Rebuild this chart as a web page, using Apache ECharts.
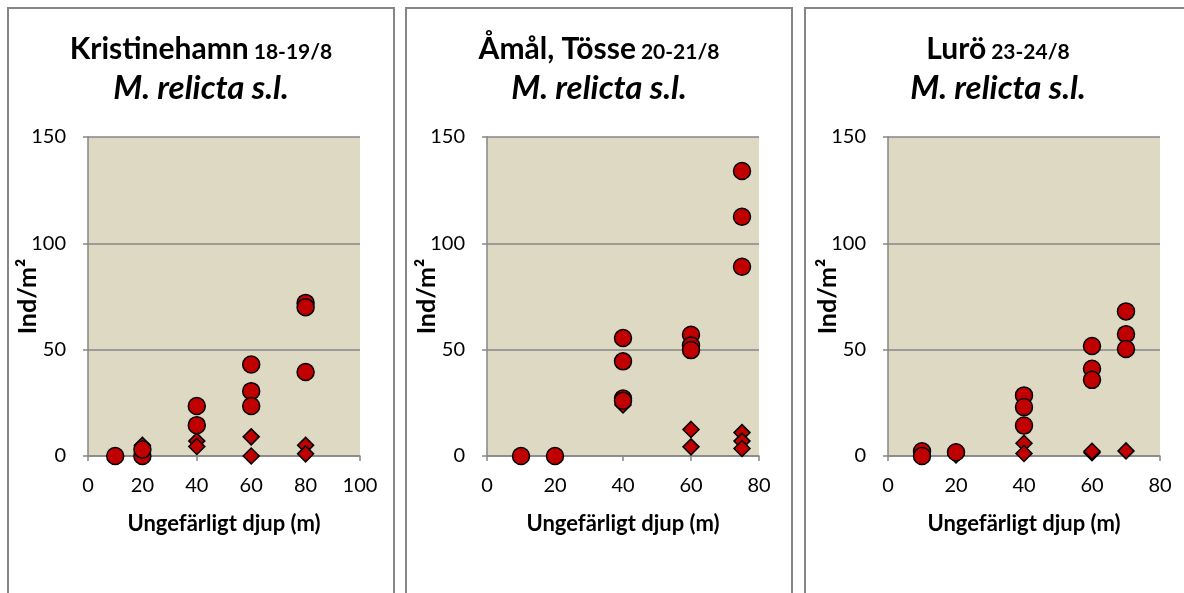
<!DOCTYPE html>
<html>
<head>
    <meta charset="utf-8">
    <title>M. relicta s.l. - djupfördelning</title>
    <script src="https://cdn.jsdelivr.net/npm/echarts@6/dist/echarts.min.js"></script>
    <style>
        html, body { margin: 0; padding: 0; background: #fff; }
        #main { width: 1184px; height: 593px; }
    </style>
</head>
<body>
<div id="main"></div>
<script>
    // sjöar / stationer
    var lakes = ['Kristinehamn', 'Åmål, Tösse', 'Lurö'];
    var dates = ['18-19/8', '20-21/8', '23-24/8'];
    var species = 'M. relicta s.l.';
    var xMax = [100, 80, 80];
    var yTicks = [0, 50, 100, 150];

    // [djup (m), ind/m2]  - cirklar
    var krCircles = [[10, 0], [20, 0], [20, 3], [40, 23.5], [40, 14.5], [60, 43], [60, 30.5], [60, 23.5], [80, 72], [80, 70], [80, 39.5]];
    var amCircles = [[10, 0], [20, 0], [40, 55.5], [40, 44.5], [40, 27], [40, 26], [60, 57], [60, 52], [60, 49.8], [75, 134], [75, 112.5], [75, 89]];
    var luCircles = [[10, 2.2], [10, 0], [20, 1.8], [40, 28.5], [40, 23], [40, 14.3], [60, 51.7], [60, 41], [60, 35.8], [70, 68], [70, 57.3], [70, 50.3]];

    // romber
    var krDiamonds = [[10, 0], [20, 5], [20, 1], [40, 7], [40, 4.5], [60, 9], [60, 0], [80, 5], [80, 1]];
    var amDiamonds = [[10, 0], [20, 0], [40, 24], [60, 12.5], [60, 4.3], [75, 11], [75, 7], [75, 3.5]];
    var luDiamonds = [[10, 0], [20, 0.5], [40, 6], [40, 1.2], [60, 1.5], [60, 2.2], [70, 2.4]];

    var circles = [krCircles, amCircles, luCircles];
    var diamonds = [krDiamonds, amDiamonds, luDiamonds];

    var FONT = 'Lato';
    var GRAY = '#868686';
    var panelX = [8, 406, 805];
    var panelW = 386;
    var plotLeft = [88, 487, 888];
    var plotW = 272;

    var grids = [], xAxes = [], yAxes = [], series = [], titles = [], frames = [];

    for (var i = 0; i < 3; i++) {
        frames.push({
            type: 'rect',
            shape: { x: panelX[i], y: 8, width: panelW, height: 620 },
            style: { fill: 'none', stroke: GRAY, lineWidth: 2 },
            z: 100
        });
        titles.push({
            text: '{a|' + lakes[i] + '} {b|' + dates[i] + '}\n{c|' + species + '}',
            left: panelX[i] + panelW / 2 - 5,
            top: 25,
            textAlign: 'center',
            textStyle: {
                rich: {
                    a: { fontFamily: FONT, fontWeight: 'bold', fontSize: 30, color: '#000', lineHeight: 38 },
                    b: { fontFamily: FONT, fontWeight: 'bold', fontSize: 21, color: '#000', lineHeight: 30, verticalAlign: 'bottom', padding: [0, 0, 5, 0] },
                    c: { fontFamily: FONT, fontWeight: 'bold', fontStyle: 'italic', fontSize: 33, color: '#000', lineHeight: 40 }
                }
            }
        });
        grids.push({
            left: plotLeft[i], top: 137, width: plotW, height: 319,
            show: true, backgroundColor: '#DDD9C3', borderWidth: 0
        });
        xAxes.push({
            type: 'value', gridIndex: i, min: 0, max: xMax[i], interval: 20,
            name: 'Ungefärligt djup (m)', nameLocation: 'middle', nameGap: 57, nameMoveOverlap: false,
            nameTextStyle: { fontFamily: FONT, fontWeight: 'bold', fontSize: 22, color: '#000' },
            axisLine: { show: true, onZero: false, lineStyle: { color: GRAY, width: 1.5 } },
            axisTick: { show: true, length: 5, lineStyle: { color: GRAY, width: 1.5 } },
            axisLabel: { fontFamily: FONT, fontSize: 20, color: '#000', margin: 20 },
            splitLine: { show: false }
        });
        yAxes.push({
            type: 'value', gridIndex: i, min: yTicks[0], max: yTicks[yTicks.length - 1], interval: yTicks[1] - yTicks[0],
            name: 'Ind/m²', nameLocation: 'middle', nameGap: 48, nameMoveOverlap: false,
            nameTextStyle: { fontFamily: FONT, fontWeight: 'bold', fontSize: 25, color: '#000' },
            axisLine: { show: true, lineStyle: { color: GRAY, width: 1.5 } },
            axisTick: { show: true, length: 5, lineStyle: { color: GRAY, width: 1.5 } },
            axisLabel: { fontFamily: FONT, fontSize: 20, color: '#000', margin: 22 },
            splitLine: { show: true, lineStyle: { color: GRAY, width: 1.5 } }
        });
        series.push({
            type: 'scatter', xAxisIndex: i, yAxisIndex: i,
            symbol: 'diamond', symbolSize: 16,
            itemStyle: { color: '#C00000', borderColor: '#000', borderWidth: 1.5, opacity: 1 },
            data: diamonds[i], z: 2
        });
        series.push({
            type: 'scatter', xAxisIndex: i, yAxisIndex: i,
            symbol: 'circle', symbolSize: 17,
            itemStyle: { color: '#C00000', borderColor: '#000', borderWidth: 1.5, opacity: 1 },
            data: circles[i], z: 3
        });
    }

    var myChart = echarts.init(document.getElementById('main'));
    myChart.setOption({
        backgroundColor: '#FFFFFF',
        animation: false,
        title: titles,
        grid: grids,
        xAxis: xAxes,
        yAxis: yAxes,
        series: series,
        graphic: frames
    });
</script>
</body>
</html>
